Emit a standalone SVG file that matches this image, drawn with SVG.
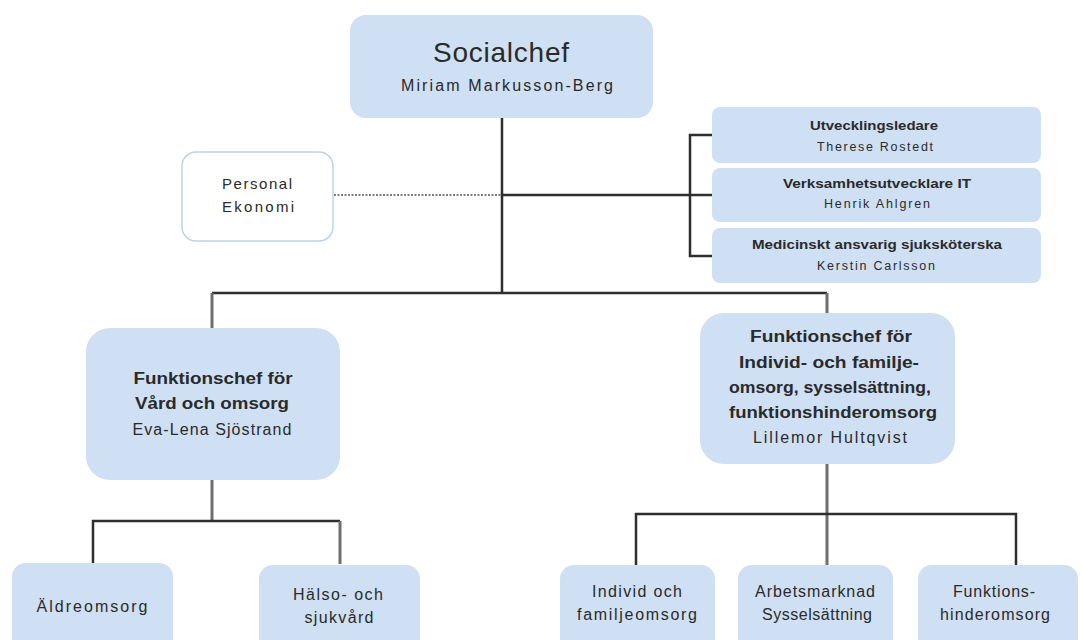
<svg xmlns="http://www.w3.org/2000/svg" width="1084" height="640" viewBox="0 0 1084 640">
<style>
.box{fill:#cfe0f4;stroke:none}
.wbox{fill:#ffffff;stroke:#bcd3ee;stroke-width:1.5}
text{font-family:"Liberation Sans",Arial,sans-serif;fill:#2a2a2a;text-anchor:middle}
.b{font-weight:bold}
.s{font-size:12.5px}
.m{font-size:15px}
.n{font-size:16px}
.dk{stroke:#2e2e2e;stroke-width:2.5;fill:none}
.gr{stroke:#6e6e6e;stroke-width:3;fill:none}
</style>
<rect width="1084" height="640" fill="#ffffff"/>
<g id="connectors">
<path class="dk" d="M502 118 V293"/>
<path class="dk" d="M212 293 H827"/>
<path class="gr" d="M212 293 V328"/>
<path class="gr" d="M827 293 V313"/>
<path d="M334 195 H502" stroke="#555" stroke-width="1.3" stroke-dasharray="2,1.5" fill="none"/>
<path class="dk" d="M502 195 H690"/>
<path class="dk" d="M712 135 H690 V256 H712"/>
<path class="dk" d="M690 195 H712"/>
<path class="gr" d="M212 480 V521"/>
<path class="dk" d="M93 563 V521 H340"/>
<path class="gr" d="M340 521 V564"/>
<path class="gr" d="M827 464 V565"/>
<path class="dk" d="M636 565 V514 H1016 V565"/>
</g>
<g id="socialchef">
<rect class="box" x="350" y="15" width="303" height="103" rx="16"/>
<text x="501" y="62" style="font-size:28px" textLength="136" lengthAdjust="spacing">Socialchef</text>
<text x="507" y="91" class="n" textLength="212" lengthAdjust="spacing">Miriam Markusson-Berg</text>
</g>
<g id="utvecklingsledare">
<rect class="box" x="712" y="107" width="329" height="56" rx="8"/>
<text x="874" y="130" class="s b" textLength="128" lengthAdjust="spacingAndGlyphs">Utvecklingsledare</text>
<text x="875" y="151" class="s" textLength="116" lengthAdjust="spacing">Therese Rostedt</text>
</g>
<g id="verksamhetsutvecklare">
<rect class="box" x="712" y="168" width="329" height="54" rx="8"/>
<text x="877" y="188" class="s b" textLength="188" lengthAdjust="spacingAndGlyphs">Verksamhetsutvecklare IT</text>
<text x="877" y="208" class="s" textLength="106" lengthAdjust="spacing">Henrik Ahlgren</text>
</g>
<g id="medicinskt">
<rect class="box" x="712" y="228" width="329" height="55" rx="8"/>
<text x="877" y="249" class="s b" textLength="250" lengthAdjust="spacingAndGlyphs">Medicinskt ansvarig sjuksköterska</text>
<text x="876" y="270" class="s" textLength="118" lengthAdjust="spacing">Kerstin Carlsson</text>
</g>
<g id="personal">
<rect class="wbox" x="182" y="152" width="151" height="89" rx="14"/>
<text x="257" y="189" class="m" textLength="70" lengthAdjust="spacing">Personal</text>
<text x="258" y="212" class="m" textLength="72" lengthAdjust="spacing">Ekonomi</text>
</g>
<g id="vard">
<rect class="box" x="86" y="328" width="254" height="152" rx="24"/>
<text x="213" y="384" class="n b" textLength="159" lengthAdjust="spacingAndGlyphs">Funktionschef för</text>
<text x="212" y="409" class="n b" textLength="154" lengthAdjust="spacingAndGlyphs">Vård och omsorg</text>
<text x="212" y="435" class="n" textLength="159" lengthAdjust="spacing">Eva-Lena Sjöstrand</text>
</g>
<g id="individ">
<rect class="box" x="700" y="313" width="255" height="151" rx="24"/>
<text x="831" y="342" class="n b" textLength="162" lengthAdjust="spacingAndGlyphs">Funktionschef för</text>
<text x="829" y="368" class="n b" textLength="180" lengthAdjust="spacingAndGlyphs">Individ- och familje-</text>
<text x="830" y="393" class="n b" textLength="202" lengthAdjust="spacingAndGlyphs">omsorg, sysselsättning,</text>
<text x="833" y="418" class="n b" textLength="208" lengthAdjust="spacingAndGlyphs">funktionshinderomsorg</text>
<text x="830" y="443" class="n" textLength="154" lengthAdjust="spacing">Lillemor Hultqvist</text>
</g>
<g id="aldreomsorg">
<rect class="box" x="12" y="563" width="161" height="90" rx="14"/>
<text x="92" y="612" class="n" textLength="111" lengthAdjust="spacing">Äldreomsorg</text>
</g>
<g id="halso">
<rect class="box" x="259" y="565" width="161" height="90" rx="14"/>
<text x="338" y="600" class="n" textLength="90" lengthAdjust="spacing">Hälso- och</text>
<text x="339" y="623" class="n" textLength="69" lengthAdjust="spacing">sjukvård</text>
</g>
<g id="ifo">
<rect class="box" x="560" y="565" width="155" height="90" rx="14"/>
<text x="637" y="597" class="n" textLength="90" lengthAdjust="spacing">Individ och</text>
<text x="637" y="620" class="n" textLength="120" lengthAdjust="spacing">familjeomsorg</text>
</g>
<g id="arbetsmarknad">
<rect class="box" x="738" y="565" width="155" height="90" rx="14"/>
<text x="815" y="597" class="n" textLength="120" lengthAdjust="spacing">Arbetsmarknad</text>
<text x="817" y="620" class="n" textLength="110" lengthAdjust="spacing">Sysselsättning</text>
</g>
<g id="funktionshinder">
<rect class="box" x="918" y="565" width="160" height="90" rx="14"/>
<text x="994" y="597" class="n" textLength="82" lengthAdjust="spacing">Funktions-</text>
<text x="995" y="620" class="n" textLength="110" lengthAdjust="spacing">hinderomsorg</text>
</g>
</svg>
